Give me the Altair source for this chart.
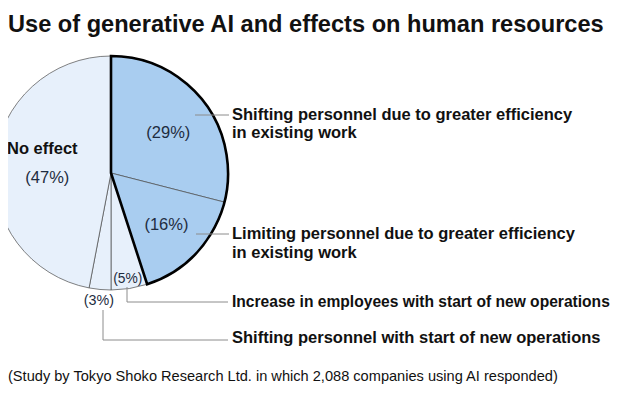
import altair as alt
import pandas as pd

# ---------------- data ----------------
title_text = "Use of generative AI and effects on human resources"
footnote_text = "(Study by Tokyo Shoko Research Ltd. in which 2,088 companies using AI responded)"
categories = [
    "Shifting personnel due to greater efficiency\nin existing work",
    "Limiting personnel due to greater efficiency\nin existing work",
    "Increase in employees with start of new operations",
    "Shifting personnel with start of new operations",
    "No effect",
]
shares = [29, 16, 5, 3, 47]
highlighted = [True, True, False, False, False]

# ---------------- styles ----------------
FONT = "Liberation Sans"
BLUE = "#a9cdf0"
PALE = "#e7f0fb"
LABEL_C = "#1e2c40"
TEXT_C = "#111111"
LEADER_C = "#8c8c8c"
fills = [BLUE if h else PALE for h in highlighted]

df = pd.DataFrame({
    "cat": categories,
    "share": shares,
    "idx": list(range(len(shares))),
    "pct": [f"({v}%)" for v in shares],
})
grp_df = pd.DataFrame({
    "grp": ["effect", "rest"],
    "share": [sum(v for v, h in zip(shares, highlighted) if h),
              sum(v for v, h in zip(shares, highlighted) if not h)],
    "idx": [0, 1],
})

CX, CY, R = 103, 165, 117
theta = alt.Theta("share:Q", stack=True)
order = alt.Order("idx:Q")

base = alt.Chart(df).encode(theta=theta, order=order, x=alt.value(CX), y=alt.value(CY))

slices = base.mark_arc(radius=R, stroke="#4a4a4a", strokeWidth=0.7).encode(
    color=alt.Color("cat:N", scale=alt.Scale(domain=categories, range=fills), legend=None)
)

outline = alt.Chart(grp_df).mark_arc(radius=R, fillOpacity=0, strokeWidth=2.6, stroke="#000000").encode(
    theta=theta, order=order, x=alt.value(CX), y=alt.value(CY),
    strokeOpacity=alt.StrokeOpacity("grp:N", scale=alt.Scale(domain=["effect", "rest"], range=[1, 0]), legend=None),
)


def pie_label(i, r, size, field="pct", weight="normal", dx=0, dy=0):
    return base.mark_text(radius=r, fontSize=size, fontWeight=weight, font=FONT, color=LABEL_C if field == "pct" else TEXT_C,
                          dx=dx, dy=dy, align="center", baseline="middle").encode(
        text=alt.condition(f"datum.idx == {i}", alt.Text(f"{field}:N"), alt.value(""))
    )


labels = [
    pie_label(0, 70, 16.5, dx=2, dy=3),
    pie_label(1, 76, 16.5),
    pie_label(2, 107, 13.8),
    pie_label(3, 129, 14.3),
    pie_label(4, 64, 16.5, dy=11),
    pie_label(4, 64, 16.5, field="cat", weight="bold", dx=-5, dy=-18),
]


def txt(s, x, y, size, weight="normal", color=TEXT_C, baseline="middle"):
    return alt.Chart(pd.DataFrame({"t": [s]})).mark_text(
        align="left", baseline=baseline, fontSize=size, fontWeight=weight, font=FONT, color=color
    ).encode(x=alt.value(x), y=alt.value(y), text="t:N")


def rule(x1, y1, x2, y2):
    return alt.Chart(pd.DataFrame({"a": [0]})).mark_rule(color=LEADER_C, strokeWidth=1).encode(
        x=alt.value(x1), y=alt.value(y1), x2=alt.value(x2), y2=alt.value(y2)
    )


legend_y = [[107, 125], [226, 245], [294], [330]]
legend_size = [16.5, 16.5, 15.6, 16.5]
legend_layers = []
for i, ys in enumerate(legend_y):
    for line, y in zip(categories[i].split("\n"), ys):
        legend_layers.append(txt(line, 224, y, legend_size[i], weight="bold"))

leaders = [
    rule(187, 107, 221, 107),
    rule(188, 226, 221, 226),
    rule(119, 279, 119, 294), rule(119, 294, 220, 294),
    rule(95, 302, 95, 332), rule(95, 332, 220, 332),
]

title = txt(title_text, 0, 24, 23.6, weight="bold", baseline="alphabetic")
foot = txt(footnote_text, 0, 373, 14.6, baseline="alphabetic")

chart = alt.layer(
    slices, outline, *labels, *leaders, *legend_layers, title, foot
).properties(
    width=606, height=377, padding=0, autosize="none", background="white"
).configure_view(strokeWidth=0)

chart.save("out.html", embed_options={"renderer": "svg", "actions": False})
